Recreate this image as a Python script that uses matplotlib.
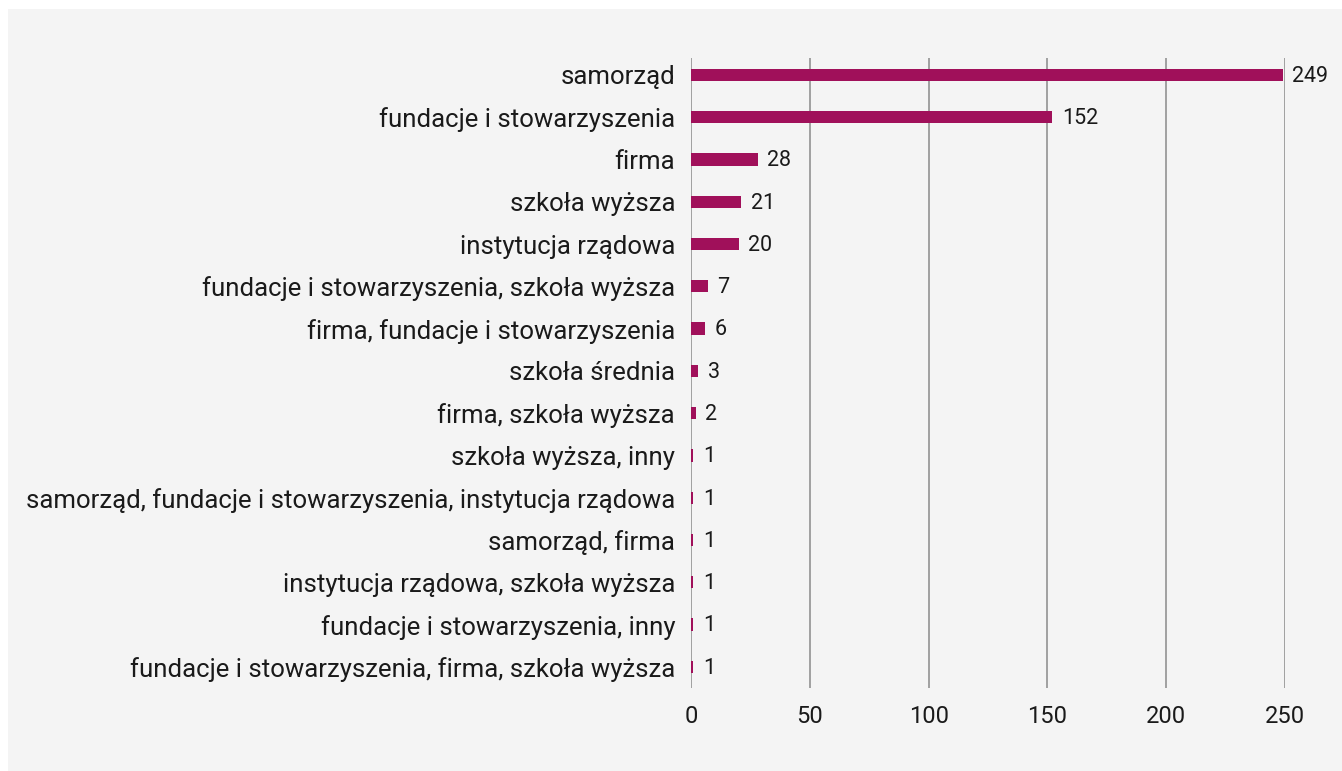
import matplotlib.pyplot as plt
from matplotlib.patches import Rectangle

W, H = 1342, 771

categories = [
    'samorząd',
    'fundacje i stowarzyszenia',
    'firma',
    'szkoła wyższa',
    'instytucja rządowa',
    'fundacje i stowarzyszenia, szkoła wyższa',
    'firma, fundacje i stowarzyszenia',
    'szkoła średnia',
    'firma, szkoła wyższa',
    'szkoła wyższa, inny',
    'samorząd, fundacje i stowarzyszenia, instytucja rządowa',
    'samorząd, firma',
    'instytucja rządowa, szkoła wyższa',
    'fundacje i stowarzyszenia, inny',
    'fundacje i stowarzyszenia, firma, szkoła wyższa',
]
values = [249, 152, 28, 21, 20, 7, 6, 3, 2, 1, 1, 1, 1, 1, 1]
xticks = [0, 50, 100, 150, 200, 250]

BAR_COLOR = '#a0105a'
GRID_COLOR = '#9a9a9a'
BG = '#f4f4f4'
TXT = '#1a1a1a'

plt.rcParams['font.family'] = ['Roboto', 'DejaVu Sans']

fig = plt.figure(figsize=(W / 100, H / 100), dpi=100, facecolor='white')
# gray panel, thin white strip on the left and top
fig.patches.append(Rectangle((8 / W, 0), 1.1, 1 - 9 / H, transform=fig.transFigure,
                             facecolor=BG, edgecolor='none', zorder=-1))

ax = fig.add_axes([691 / W, 1 - 688 / H, (1285 - 691) / W, (688 - 58) / H])
ax.set_facecolor('none')

ypos = list(range(len(categories)))
ax.barh(ypos, values, height=0.29, color=BAR_COLOR, zorder=3)
for y, v in zip(ypos, values):
    ax.annotate(str(v), (v, y), xytext=(7, -1), textcoords='offset points',
                va='center', ha='left', fontsize=15.5, color=TXT)

ax.set_xlim(0, 250)
ax.set_ylim(len(categories) - 0.5, -0.4)
ax.set_yticks(ypos)
ax.set_yticklabels(categories, fontsize=18.5, color=TXT)
ax.set_xticks(xticks)
ax.set_xticklabels([str(t) for t in xticks], fontsize=17, color=TXT)
ax.tick_params(axis='both', length=0)
ax.tick_params(axis='y', pad=11.5)
ax.tick_params(axis='x', pad=12)
for s in ax.spines.values():
    s.set_visible(False)
ax.grid(axis='x', color=GRID_COLOR, linewidth=1.3, zorder=1)
ax.set_axisbelow(True)

fig.savefig('out.png', dpi=100, facecolor='white')
